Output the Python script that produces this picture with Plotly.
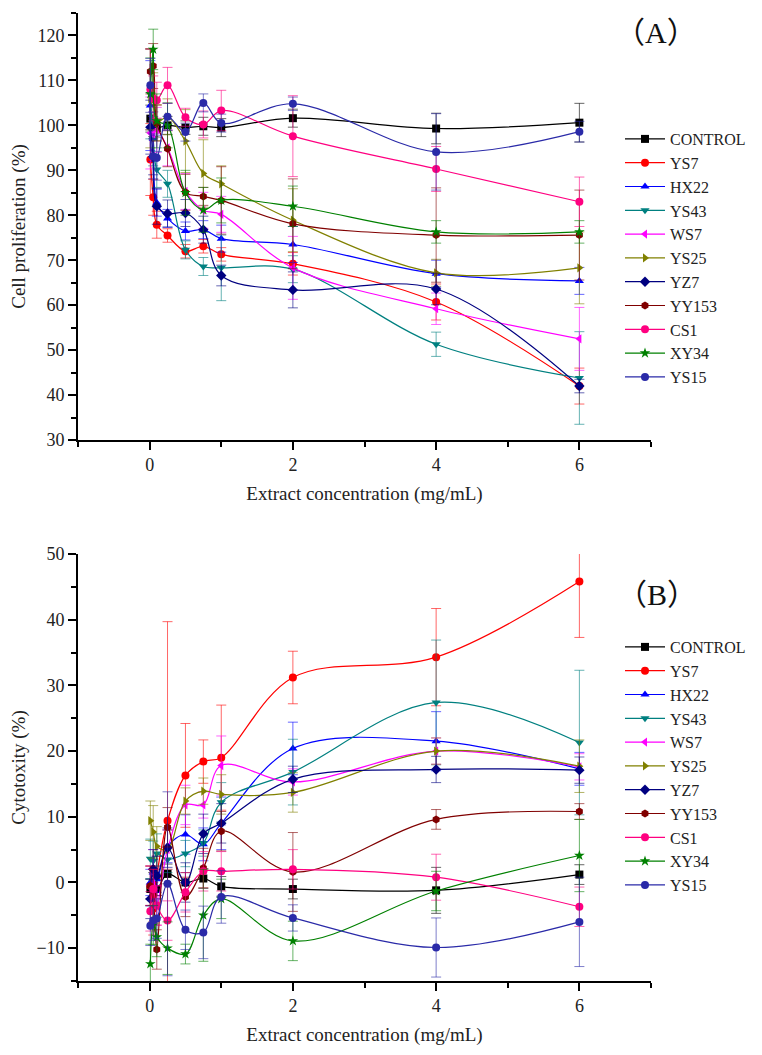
import plotly.graph_objects as go

conc = [0.01, 0.05, 0.1, 0.25, 0.5, 0.75, 1, 2, 4, 6]
names = ["CONTROL", "YS7", "HX22", "YS43", "WS7", "YS25", "YZ7", "YY153", "CS1", "XY34", "YS15"]
colors = ["#000000", "#FF0000", "#0000FF", "#008080", "#FF00FF", "#808000",
          "#000080", "#800000", "#FF0080", "#008000", "#2A2AA8"]
symbols = ["square", "circle", "triangle-up", "triangle-down", "triangle-left",
           "triangle-right", "diamond", "hexagon", "circle", "star", "circle"]

# Panel A: cell proliferation (%)
prolif = {
    "CONTROL": [101.5, 99.5, 99.4, 100.0, 99.5, 99.8, 99.5, 101.6, 99.3, 100.6],
    "YS7":     [92.4, 84.0, 77.9, 75.5, 72.0, 73.1, 71.3, 69.2, 60.7, 42.0],
    "HX22":    [104.4, 97.0, 82.8, 79.3, 76.5, 76.8, 74.8, 73.5, 67.0, 65.4],
    "YS43":    [107.0, 97.0, 90.2, 87.0, 72.3, 68.6, 68.3, 68.0, 51.3, 43.8],
    "WS7":     [98.3, 98.0, 99.0, 95.0, 85.3, 81.1, 80.2, 68.3, 59.2, 52.5],
    "YS25":    [106.0, 105.7, 100.6, 101.9, 96.5, 89.3, 87.0, 78.9, 67.2, 68.3],
    "YZ7":     [99.6, 93.0, 82.0, 80.4, 80.5, 76.8, 66.6, 63.4, 63.6, 42.0],
    "YY153":   [112.0, 113.2, 100.5, 94.8, 85.1, 84.2, 83.3, 78.1, 75.6, 75.6],
    "CS1":     [108.0, 106.0, 105.6, 108.9, 101.8, 100.2, 103.3, 97.6, 90.3, 83.0],
    "XY34":    [107.0, 116.9, 101.0, 100.0, 85.0, 81.2, 83.3, 82.0, 76.3, 76.3],
    "YS15":    [108.9, 93.1, 92.8, 101.9, 98.5, 105.0, 100.5, 104.8, 94.1, 98.6],
}
prolif_err = {
    "CONTROL": [3, 2, 2, 2, 1.5, 2, 2, 2, 3.4, 4.3],
    "YS7":     [8, 4, 3, 1.5, 1.5, 1.5, 1.5, 2.5, 4, 4],
    "HX22":    [10, 5, 3, 2, 2, 2, 3, 4, 3, 3],
    "YS43":    [10, 6, 4, 3, 2, 2, 7.3, 3, 2.7, 10.3],
    "WS7":     [8, 5, 5, 4, 4, 4, 4, 7, 3.5, 7],
    "YS25":    [11, 6, 4, 4, 7, 7.5, 4, 7, 3, 8],
    "YZ7":     [6, 4, 4, 3, 3, 3, 2.3, 4, 3.5, 1.5],
    "YY153":   [5, 5, 4, 4, 4, 2, 7.5, 10, 10.5, 10],
    "CS1":     [9, 5, 4, 4, 2, 3, 4.5, 9, 5, 5.5],
    "XY34":    [8, 4.5, 6, 5, 5, 5, 5, 4.5, 2.5, 2.5],
    "YS15":    [6, 5, 5, 3, 2, 2, 2, 1.5, 8.5, 2.3],
}

# Panel B: cytotoxicity (%)
cyto = {
    "CONTROL": [-1.0, 0.0, -1.0, 1.3, 0.0, 0.6, -0.6, -1.0, -1.2, 1.2],
    "YS7":     [-0.5, -4.0, 1.0, 9.4, 16.3, 18.4, 19.0, 31.2, 34.3, 45.8],
    "HX22":    [0.0, 1.5, 0.5, 5.5, 7.3, 5.8, 9.0, 20.4, 21.5, 17.3],
    "YS43":    [3.6, 3.3, 4.4, 3.5, 4.4, 6.0, 12.2, 16.8, 27.4, 21.3],
    "WS7":     [-0.5, 2.0, -3.5, 5.0, 11.8, 11.8, 17.8, 15.3, 20.0, 17.6],
    "YS25":    [9.4, 7.7, 5.5, 5.0, 12.4, 13.9, 13.4, 13.7, 20.0, 17.7],
    "YZ7":     [-2.5, 2.0, 1.0, 5.3, 0.0, 7.4, 9.0, 15.7, 17.2, 17.1],
    "YY153":   [-0.5, -2.0, -10.2, 8.4, -2.2, 2.2, 7.8, 1.6, 9.6, 10.8],
    "CS1":     [-4.4, -1.0, -3.5, -5.8, -1.5, 1.7, 1.7, 2.0, 0.8, -3.7],
    "XY34":    [-12.4, -6.5, -8.3, -10.0, -10.9, -5.0, -2.5, -8.9, -1.3, 4.1],
    "YS15":    [-6.6, -5.8, -5.5, -0.2, -7.2, -7.6, -2.2, -5.4, -9.9, -6.0],
}
cyto_err = {
    "CONTROL": [1.5, 1.5, 1.5, 1.5, 1.5, 1.5, 1.5, 1.5, 3.5, 1.5],
    "YS7":     [3, 4, 3, 30.3, 7.9, 3.3, 8, 4, 7.4, 8.5],
    "HX22":    [2, 2, 2, 2.5, 3, 2.5, 4, 4, 4.5, 2.5],
    "YS43":    [3, 3, 3, 2, 2, 2, 3, 5, 9.5, 11],
    "WS7":     [3, 3, 3, 3, 3, 2, 4.5, 2, 2, 2],
    "YS25":    [3, 4, 3, 3, 2, 2, 3, 3, 2, 4],
    "YZ7":     [3, 3, 3, 3, 3, 3, 3, 2, 2, 2],
    "YY153":   [3, 4, 3, 3, 3, 3, 3, 6, 1.5, 1.2],
    "CS1":     [3, 3, 3, 3, 3, 3, 3, 3, 3.5, 3],
    "XY34":    [3, 3, 3, 4, 1.5, 7, 3, 3, 3, 5.5],
    "YS15":    [3, 3, 3, 14, 3, 4, 4, 2, 4.5, 6.8],
}


def rgba(hexc, a):
    h = hexc.lstrip("#")
    r, g, b = int(h[0:2], 16), int(h[2:4], 16), int(h[4:6], 16)
    return f"rgba({r},{g},{b},{a})"


fig = go.Figure()
FONT = "Liberation Serif"
CJK = "Noto Sans CJK SC"
W, H = 754, 1047   # page body has an 8px margin


def px_x(p):
    return (p - 8) / W


def px_y(p):
    return 1 - (p - 8) / H


for panel, data, err, xa, ya, leg in [
    ("A", prolif, prolif_err, "x", "y", "legend"),
    ("B", cyto, cyto_err, "x2", "y2", "legend2"),
]:
    for name, col, sym in zip(names, colors, symbols):
        fig.add_trace(go.Scatter(
            x=conc, y=data[name], name=name, mode="lines+markers",
            xaxis=xa, yaxis=ya, legend=leg,
            line=dict(color=col, width=1.2, shape="spline", smoothing=1.0),
            marker=dict(symbol=sym, size=8, color=col, line=dict(width=0)),
            error_y=dict(type="data", array=err[name], visible=True,
                         color=rgba(col, 0.6), thickness=1, width=5),
        ))

axis_common = dict(showline=True, linecolor="black", linewidth=1.6,
                   ticks="outside", ticklen=8, tickwidth=1.5, tickcolor="black",
                   showgrid=False, zeroline=False, mirror=False, automargin=False,
                   tickfont=dict(family=FONT, size=18, color="#222"))
title_font = dict(family=FONT, size=19, color="#222")
minor_x = dict(tickvals=[-1, 1, 3, 5, 7], ticks="outside", ticklen=5, tickcolor="black")
minor_y = dict(dtick=5, ticks="outside", ticklen=5, tickcolor="black")

xd = [px_x(78), px_x(651)]
leg_common = dict(xanchor="left", yanchor="top",
                  font=dict(family=FONT, size=16, color="#222"),
                  bgcolor="rgba(0,0,0,0)", itemwidth=40, tracegroupgap=0)
letter = '\uff08<span style="font-family:Liberation Serif">%s</span>\uff09'
fig.update_layout(
    width=W, height=H,
    margin=dict(l=0, r=0, t=0, b=0, autoexpand=False),
    paper_bgcolor="white", plot_bgcolor="white",
    font=dict(family=FONT, size=18, color="#222"),
    showlegend=True,
    xaxis=dict(domain=xd, range=[-1, 7], anchor="y", tickvals=[0, 2, 4, 6], minor=minor_x,
               title=dict(text="Extract concentration (mg/mL)", font=title_font, standoff=12),
               **axis_common),
    yaxis=dict(domain=[px_y(440), px_y(13)], range=[30, 125], anchor="x",
               tickvals=[30, 40, 50, 60, 70, 80, 90, 100, 110, 120], minor=minor_y,
               title=dict(text="Cell proliferation (%)", font=title_font, standoff=8),
               **axis_common),
    xaxis2=dict(domain=xd, range=[-1, 7], anchor="y2", tickvals=[0, 2, 4, 6], minor=minor_x,
                title=dict(text="Extract concentration (mg/mL)", font=title_font, standoff=12),
                **axis_common),
    yaxis2=dict(domain=[px_y(981), px_y(554)], range=[-15, 50], anchor="x2",
                tickvals=[-10, 0, 10, 20, 30, 40, 50],
                ticktext=["\u221210", "0", "10", "20", "30", "40", "50"], minor=minor_y,
                title=dict(text="Cytotoxity (%)", font=title_font, standoff=8),
                **axis_common),
    legend=dict(x=px_x(620), y=px_y(122), **leg_common),
    legend2=dict(x=px_x(620), y=px_y(630), **leg_common),
    annotations=[
        dict(text=letter % "A", x=px_x(656), y=px_y(30),
             xref="paper", yref="paper", xanchor="center", yanchor="middle", showarrow=False,
             font=dict(family=CJK, size=30, color="#111")),
        dict(text=letter % "B", x=px_x(657), y=px_y(592),
             xref="paper", yref="paper", xanchor="center", yanchor="middle", showarrow=False,
             font=dict(family=CJK, size=30, color="#111")),
    ],
)

fig.write_html("out.html")
